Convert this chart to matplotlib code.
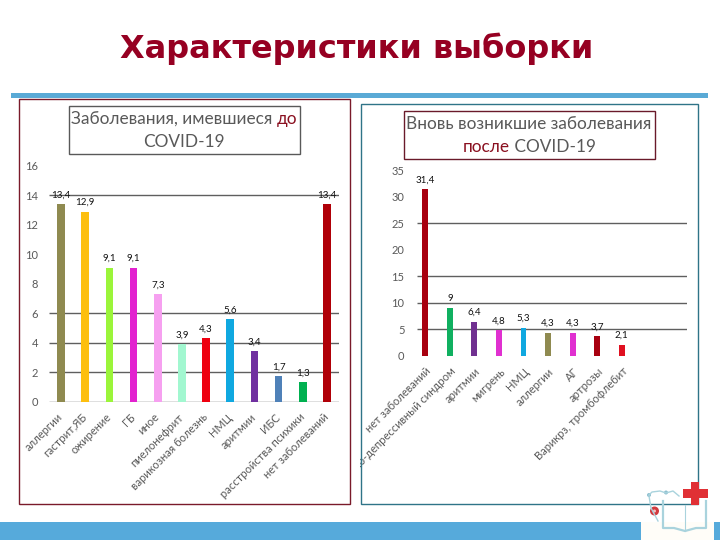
import matplotlib
matplotlib.use('Agg')
import matplotlib.pyplot as plt
from matplotlib.patches import Rectangle, Circle
from matplotlib.transforms import Bbox, ScaledTranslation

W, H = 720, 540

left_labels = ['аллергии', 'гастрит,ЯБ', 'ожирение', 'ГБ', 'иное', 'пиелонефрит',
               'варикозная болезнь', 'НМЦ', 'аритмии', 'ИБС', 'расстройства психики',
               'нет заболеваний']
left_values = [13.4, 12.9, 9.1, 9.1, 7.3, 3.9, 4.3, 5.6, 3.4, 1.7, 1.3, 13.4]
left_text = ['13,4', '12,9', '9,1', '9,1', '7,3', '3,9', '4,3', '5,6', '3,4', '1,7', '1,3', '13,4']
left_colors = ['#8f8a50', '#fdbf0f', '#9bf53a', '#e222cf', '#f6a0f0', '#a2f7d0',
               '#ee0010', '#10a8e0', '#7030a0', '#4f81b8', '#00b050', '#b00008']
left_ticks = [0, 2, 4, 6, 8, 10, 12, 14, 16]
left_grid = [0, 2, 4, 6, 14]

right_labels = ['нет заболеваний', 'Астено-депрессивный синдром', 'аритмии', 'мигрень',
                'НМЦ', 'аллергии', 'АГ', 'артрозы', 'Варикрз, тромбофлебит']
right_values = [31.4, 9, 6.4, 4.8, 5.3, 4.3, 4.3, 3.7, 2.1]
right_text = ['31,4', '9', '6,4', '4,8', '5,3', '4,3', '4,3', '3,7', '2,1']
right_colors = ['#a80010', '#10b060', '#703090', '#e030d0', '#10a8e0', '#8f8a50',
                '#e030d0', '#a80010', '#e01020']
right_ticks = [0, 5, 10, 15, 20, 25, 30, 35]
right_grid = [5, 10, 15, 25]

GRAY = '#595959'
DARK_RED = '#8a1020'

plt.rcParams['font.family'] = ['Lato', 'DejaVu Sans']
fig = plt.figure(figsize=(W / 100, H / 100), dpi=100)


def px_rect(x0, y0, x1, y1, **kw):
    # rectangle given in picture pixels, y going down
    r = Rectangle((x0 / W, 1 - y1 / H), (x1 - x0) / W, (y1 - y0) / H,
                  transform=fig.transFigure, **kw)
    fig.add_artist(r)
    return r


def px_axes(x0, y0, x1, y1):
    ax = fig.add_axes([x0 / W, 1 - y1 / H, (x1 - x0) / W, (y1 - y0) / H])
    ax.patch.set_alpha(0)
    for s in ax.spines.values():
        s.set_visible(False)
    return ax


def two_color_line(y, parts, cx, size=12.4):
    # one line of text in several colours, centred on cx
    rend = fig.canvas.get_renderer()
    texts = [fig.text(0, 1 - y / H, t, color=c, fontsize=size, va='center') for t, c in parts]
    widths = []
    for (t, c), tx in zip(parts, texts):
        probe = fig.text(0, 0, t.replace(' ', '\u00a0'), fontsize=size)
        widths.append(probe.get_window_extent(rend).width)
        probe.remove()
        tx.set_text(t.replace(' ', '\u00a0'))
    x = cx - sum(widths) / 2
    for tx, w in zip(texts, widths):
        tx.set_x(x / W)
        x += w


def draw_chart(ax, labels, values, text, colors, ticks, grid, xlim, ylim, bar_w, pad):
    xs = list(range(len(labels)))
    ax.hlines(grid, xlim[0], xlim[1], color='#5f5f5f', lw=1, zorder=1)
    ax.bar(xs, values, bar_w, color=colors, zorder=2)
    for x, v, t in zip(xs, values, text):
        ax.annotate(t, (x, v), xytext=(0, 3.5), textcoords='offset points', ha='center',
                    va='bottom', fontsize=7, color='#111111', zorder=3)
    ax.set_xlim(xlim)
    ax.set_ylim(ylim)
    ax.set_yticks(ticks)
    ax.set_xticks(xs)
    ax.set_xticklabels(labels, rotation=45, ha='right', rotation_mode='anchor', va='center')
    ax.tick_params(axis='y', length=0, pad=pad, labelsize=8, labelcolor=GRAY)
    ax.tick_params(axis='x', length=0, pad=10, labelsize=8, labelcolor=GRAY)


fig.text(357 / W, 1 - 48.5 / H, 'Характеристики выборки', color='#960022', fontsize=23,
         fontweight='bold', ha='center', va='center', family='DejaVu Sans')

px_rect(11, 92.5, 708, 98, fc='#5aaad6', ec='none')
px_rect(0, 522, 641, 540, fc='#56aadb', ec='none')
px_rect(714, 522, 720, 540, fc='#56aadb', ec='none')

px_rect(18.5, 99, 349.5, 504, fc='none', ec='#7a1a2a', lw=1)
px_rect(360.5, 103.5, 697.5, 504, fc='none', ec='#2f7488', lw=1)

px_rect(69, 105.5, 299.5, 153.5, fc='white', ec=GRAY, lw=1)
px_rect(403.5, 110.5, 654.5, 158.5, fc='white', ec='#6a1a2a', lw=1)

# left chart
ax1 = px_axes(49, 166, 339, 401.5)
draw_chart(ax1, left_labels, left_values, left_text, left_colors, left_ticks, left_grid,
           (-0.5, 11.5), (0, 16), 0.32, 8)

# right chart
ax2 = px_axes(417, 170, 687, 355.7)
draw_chart(ax2, right_labels, right_values, right_text, right_colors, right_ticks, right_grid,
           (-0.34, 10.66), (0, 35), 0.24, 9)
# labels sit a little to the right of the bars here, long one is cut off by the chart frame
shift = ScaledTranslation(4 / 100, 0, fig.dpi_scale_trans)
for lab in ax2.get_xticklabels():
    lab.set_transform(lab.get_transform() + shift)
    lab.set_clip_on(True)
    lab.set_clip_box(Bbox.from_extents(360, 0, 720, 540))

fig.canvas.draw()
two_color_line(119, [('Заболевания, имевшиеся ', GRAY), ('до', DARK_RED)], 184)
two_color_line(142, [('COVID-19', GRAY)], 184)
two_color_line(124, [('Вновь возникшие заболевания', GRAY)], 529)
two_color_line(147, [('после', DARK_RED), (' COVID-19', GRAY)], 529)

# logo in the corner
logo = fig.add_axes([0, 0, 1, 1], zorder=5)
logo.set_xlim(0, W)
logo.set_ylim(H, 0)
logo.axis('off')
logo.patch.set_alpha(0)
logo.add_patch(Rectangle((641, 522), 73, 18, fc='#fffdf8', ec='none'))
logo.add_patch(Rectangle((683, 489), 25, 9, fc='#e03035', ec='none'))
logo.add_patch(Rectangle((691, 482), 8, 23, fc='#e03035', ec='none'))
logo.add_patch(Circle((654.5, 511), 4.5, fc='#d23a3f', ec='none'))
logo.add_patch(Circle((654.5, 511), 1.5, fc='#f4c0c0', ec='none'))
book = '#a9d3dd'
logo.plot([663, 663, 674, 685, 696, 706, 706], [501, 528, 528, 531, 528, 528, 501], color=book, lw=1.6)
logo.plot([685, 685], [505, 531], color=book, lw=0.8)
logo.plot([649, 652, 660, 666, 673, 679], [495, 492, 491, 493, 491, 496], color=book, lw=1)
logo.plot([649, 651, 658], [496, 508, 521], color=book, lw=1)
logo.add_patch(Circle((649, 495), 2, fc='#8fc0d0', ec='none'))
logo.add_patch(Circle((666, 492.5), 2, fc='#8fc0d0', ec='none'))

fig.savefig('out.png', dpi=100)
